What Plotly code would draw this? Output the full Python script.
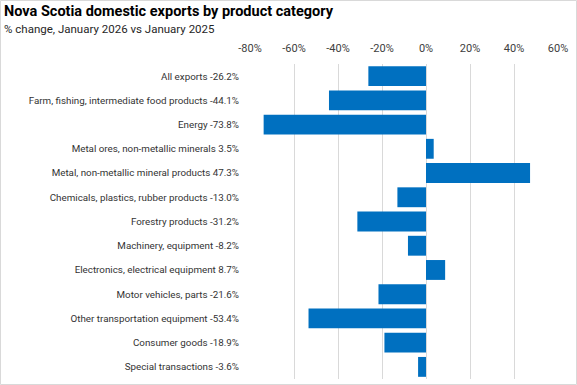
import plotly.graph_objects as go

categories = [
    "All exports",
    "Farm, fishing, intermediate food products",
    "Energy",
    "Metal ores, non-metallic minerals",
    "Metal, non-metallic mineral products",
    "Chemicals, plastics, rubber products",
    "Forestry products",
    "Machinery, equipment",
    "Electronics, electrical equipment",
    "Motor vehicles, parts",
    "Other transportation equipment",
    "Consumer goods",
    "Special transactions",
]
values = [-26.2, -44.1, -73.8, 3.5, 47.3, -13.0, -31.2, -8.2, 8.7, -21.6, -53.4, -18.9, -3.6]
x_tick_vals = [-80, -60, -40, -20, 0, 20, 40, 60]
x_tick_text = ["-80%", "-60%", "-40%", "-20%", "0%", "20%", "40%", "60%"]

labels = [f"{c} {v:.1f}%" for c, v in zip(categories, values)]

W, H = 577, 385
ML, MR, MT, MB = 250, 19, 64, 6
PW, PH = W - ML - MR, H - MT - MB

FONT = "Roboto, Liberation Sans, Arial, sans-serif"

fig = go.Figure(go.Bar(
    x=values,
    y=labels,
    orientation="h",
    marker=dict(color="#0070C0", line=dict(width=0)),
    hoverinfo="skip",
))

def px_x(p):
    return (p - ML) / PW

def px_y(p):
    return (H - MB - p) / PH

fig.update_layout(
    width=W, height=H,
    margin=dict(l=ML, r=MR, t=MT, b=MB, autoexpand=False),
    paper_bgcolor="white", plot_bgcolor="white",
    bargap=0.18,
    showlegend=False,
    font=dict(family=FONT, size=11, color="#404040"),
    xaxis=dict(
        range=[-80, 60], side="top",
        tickvals=x_tick_vals, ticktext=x_tick_text,
        showgrid=True, gridcolor="#d9d9d9", gridwidth=1,
        zeroline=False, showline=False, ticks="",
        tickfont=dict(size=11, color="#404040"),
        ticklabelstandoff=9,
        automargin=False,
        fixedrange=True,
    ),
    yaxis=dict(
        autorange="reversed",
        showgrid=False, zeroline=False, showline=False, ticks="",
        tickfont=dict(size=9.8, color="#333333"),
        ticklabelstandoff=10,
        automargin=False,
        fixedrange=True,
    ),
    annotations=[
        dict(text="<b>Nova Scotia domestic exports by product category</b>",
             xref="paper", yref="paper", x=px_x(2), y=px_y(12),
             xanchor="left", yanchor="middle", showarrow=False,
             font=dict(family=FONT, size=14.5, color="#000000")),
        dict(text="% change, January 2026 vs January 2025",
             xref="paper", yref="paper", x=px_x(2), y=px_y(29),
             xanchor="left", yanchor="middle", showarrow=False,
             font=dict(family=FONT, size=11.5, color="#262626")),
    ],
    shapes=[
        dict(type="rect", xref="paper", yref="paper",
             x0=px_x(0.5), x1=px_x(W - 0.5), y0=px_y(H - 0.5), y1=px_y(0.5),
             line=dict(color="#d9d9d9", width=1), fillcolor="rgba(0,0,0,0)", layer="below"),
    ],
)

fig.write_html(
    "out.html",
    config={"displayModeBar": False},
    post_script="document.body.style.margin='0';document.body.style.overflow='hidden';",
)
